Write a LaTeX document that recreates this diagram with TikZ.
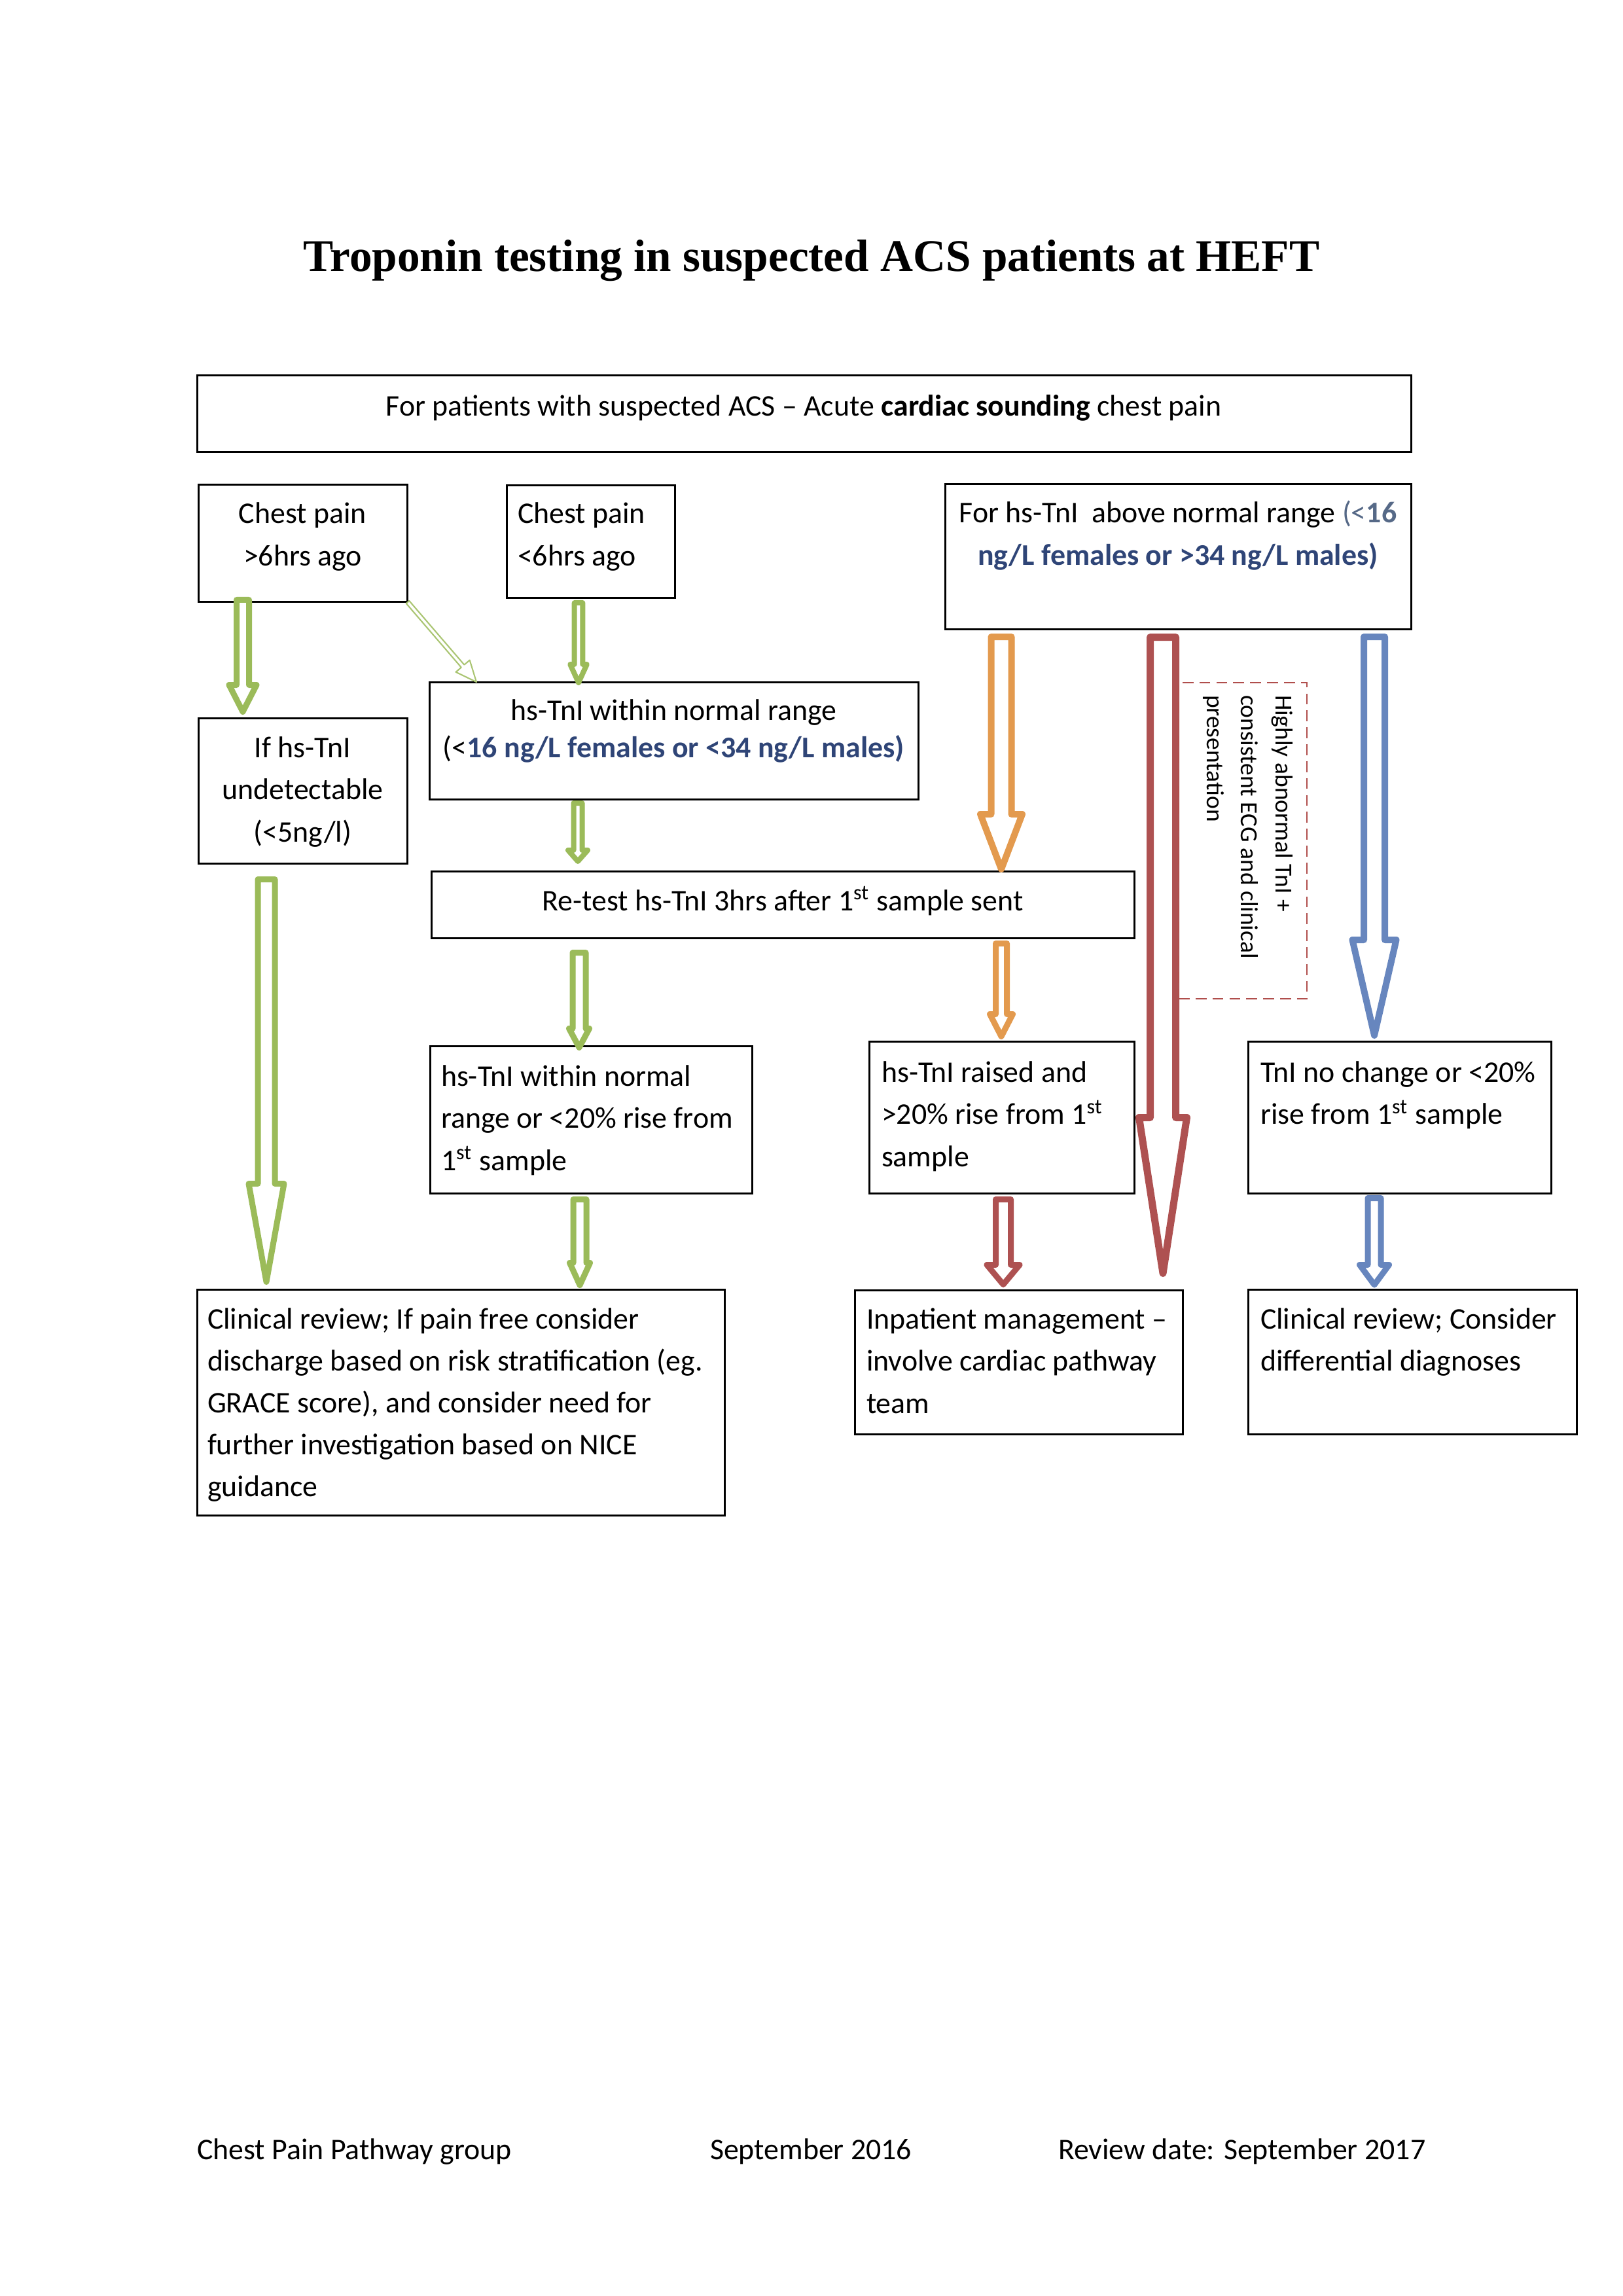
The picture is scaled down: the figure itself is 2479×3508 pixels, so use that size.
\documentclass[tikz,border=0pt]{standalone}
\usepackage{fontspec}
\setmainfont{Carlito}
\newfontfamily\titlefont{Liberation Serif}
\usetikzlibrary{calc}
\definecolor{grn}{HTML}{9BBB59}
\definecolor{org}{HTML}{E39A4E}
\definecolor{rd}{HTML}{AE5151}
\definecolor{blu}{HTML}{6786BE}
\definecolor{dkblue}{HTML}{2F4577}
\definecolor{slate}{HTML}{566987}
\definecolor{dashred}{HTML}{B04E4C}
\tikzset{
  box/.style={draw, line width=0.72pt, anchor=north west, inner sep=0pt, outer sep=0pt},
  dashbox/.style={draw=dashred, line width=0.7pt, dash pattern=on 4pt off 2.2pt, anchor=north west, inner sep=0pt, outer sep=0pt},
  txt/.style={inner sep=0pt, outer sep=0pt, font=\fontsize{11pt}{15.5pt}\selectfont},
  arw/.style={draw=#1, fill=white, line join=round}
}
% box node: style, name, x1, y1, x2, y2 (pixel units)
\newcommand\bx[6]{\node[#1, minimum width={(#5-#3)*0.24pt}, minimum height={(#6-#4)*0.24pt}] (#2) at (#3,#4) {};}
% block arrow: style, start, tip, head length, half shaft, half head (pixels)
\newcommand\barrow[6]{%
  \draw[#1] let \p1=(#2), \p2=(#3) in
   (\x1-#5*0.24pt,\y1) -- (\x1-#5*0.24pt,\y2+#4*0.24pt) -- (\x1-#6*0.24pt,\y2+#4*0.24pt)
   -- (\x1,\y2) -- (\x1+#6*0.24pt,\y2+#4*0.24pt) -- (\x1+#5*0.24pt,\y2+#4*0.24pt)
   -- (\x1+#5*0.24pt,\y1) -- cycle;}
\begin{document}
\begin{tikzpicture}[x=0.24pt,y=-0.24pt]
\useasboundingbox (0,0) rectangle (2479,3508);
\fill[white] (0,0) rectangle (2479,3508);

% title
\node[inner sep=0pt, anchor=base] (title) at (1240,415)
  {\resizebox{372.7pt}{!}{\titlefont\fontsize{16pt}{19pt}\selectfont\bfseries Troponin testing in suspected ACS patients at HEFT}};

% boxes
\bx{box}{A}{301}{574}{2156}{691}
\bx{box}{B}{303}{741}{622}{920}
\bx{box}{C}{774}{742}{1031}{914}
\bx{box}{D}{1444}{740}{2156}{962}
\bx{box}{E}{656}{1042}{1403}{1221}
\bx{box}{F}{303}{1097}{622}{1319}
\bx{box}{G}{659}{1331}{1733}{1433}
\bx{box}{H}{657}{1598}{1149}{1823}
\bx{box}{I}{1328}{1591}{1733}{1823}
\bx{box}{J}{1907}{1591}{2370}{1823}
\bx{box}{K}{301}{1970}{1107}{2315}
\bx{box}{L}{1306}{1971}{1807}{2191}
\bx{box}{M}{1907}{1970}{2409}{2191}

% texts
\node[txt, anchor=base] (tA) at (1228,636) {For patients with suspected ACS – Acute \textbf{cardiac sounding} chest pain};
\node[txt, anchor=base] (tB) at (462.5,800) {\parbox[t]{70pt}{\centering Chest pain\\>6hrs ago}};
\node[txt, anchor=base west] (tC) at (791,800) {\parbox[t]{60pt}{\raggedright Chest pain\\<6hrs ago}};
\node[txt, anchor=base] (tD) at (1800,799) {\parbox[t]{170pt}{\centering For hs-TnI\ \ above normal range {\color{slate}(<\textbf{16}}\\{\color{dkblue}\bfseries ng/L females or >34 ng/L males)}}};
\node[txt, anchor=base] (tE) at (1029.5,1100) {\parbox[t]{190pt}{\centering\setlength\baselineskip{13.9pt}hs-TnI within normal range\\(<{\color{dkblue}\bfseries 16 ng/L females or <34 ng/L males)}}};
\node[txt, anchor=base] (tF) at (462.5,1157) {\parbox[t]{70pt}{\centering If hs-TnI\\undetectable\\(<5ng/l)}};
\node[txt, anchor=base] (tG) at (1196,1391) {Re-test hs-TnI 3hrs after 1\textsuperscript{st} sample sent};
\node[txt, anchor=base west] (tH) at (674,1659) {\parbox[t]{115pt}{\raggedright hs-TnI within normal\\range or <20\% rise from\\1\textsuperscript{st} sample}};
\node[txt, anchor=base west] (tI) at (1347,1653) {\parbox[t]{95pt}{\raggedright hs-TnI raised and\\>20\% rise from 1\textsuperscript{st}\\sample}};
\node[txt, anchor=base west] (tJ) at (1926,1653) {\parbox[t]{110pt}{\raggedright TnI no change or <20\%\\rise from 1\textsuperscript{st} sample}};
\node[txt, anchor=base west] (tK) at (317,2030) {\parbox[t]{190pt}{\raggedright\setlength\baselineskip{15.4pt}Clinical review; If pain free consider\\discharge based on risk stratification (eg.\\GRACE score), and consider need for\\further investigation based on NICE\\guidance}};
\node[txt, anchor=base west] (tL) at (1324,2030) {\parbox[t]{120pt}{\raggedright Inpatient management –\\involve cardiac pathway\\team}};
\node[txt, anchor=base west] (tM) at (1926,2030) {\parbox[t]{120pt}{\raggedright Clinical review; Consider\\differential diagnoses}};

% arrow end points
\coordinate (g1a) at (371,916.5);  \coordinate (g1b) at (371,1087.5);
\coordinate (g2a) at (884,921);    \coordinate (g2b) at (884,1043);
\coordinate (g4a) at (883,1227);   \coordinate (g4b) at (883,1316);
\coordinate (g5a) at (407,1343.5); \coordinate (g5b) at (407,1958.5);
\coordinate (g6a) at (885,1455.5); \coordinate (g6b) at (885,1600.5);
\coordinate (g7a) at (886,1832.5); \coordinate (g7b) at (886,1963.5);
\coordinate (o1a) at (1530,973);   \coordinate (o1b) at (1530,1328);
\coordinate (o2a) at (1530,1441.5);\coordinate (o2b) at (1530,1583.5);
\coordinate (r1a) at (1777,973.5); \coordinate (r1b) at (1777,1945.5);
\coordinate (r2a) at (1533,1832.5);\coordinate (r2b) at (1533,1962.5);
\coordinate (b1a) at (2100,973);   \coordinate (b1b) at (2100,1582);
\coordinate (b2a) at (2100,1830.5);\coordinate (b2b) at (2100,1963);

% green arrows
\barrow{arw=grn, line width=2.16pt}{g1a}{g1b}{41}{9.5}{21}
\barrow{arw=grn, line width=1.92pt}{g2a}{g2b}{28}{6.3}{12.8}
\barrow{arw=grn, line width=1.92pt}{g4a}{g4b}{17}{6.5}{15}
\barrow{arw=grn, line width=2.16pt}{g5a}{g5b}{150}{13}{27}
\barrow{arw=grn, line width=2.16pt}{g6a}{g6b}{29}{10}{15.5}
\barrow{arw=grn, line width=2.16pt}{g7a}{g7b}{34}{10}{15.5}
% diagonal thin green arrow from B to E
\draw[arw=grn!85, line width=0.5pt] (625.3,918.0) -- (709.4,1015.7) -- (717.7,1008.6) -- (728,1042)
   -- (696.5,1026.8) -- (704.8,1019.7) -- (620.7,922.0) -- cycle;
% orange arrows
\barrow{arw=org, line width=2.4pt}{o1a}{o1b}{84}{15.5}{32}
\barrow{arw=org, line width=2.16pt}{o2a}{o2b}{34}{8.5}{17.5}
% red arrows
\barrow{arw=rd, line width=2.64pt}{r1a}{r1b}{238}{19.5}{36.5}
\barrow{arw=rd, line width=2.16pt}{r2a}{r2b}{30}{11.5}{25}
% blue arrows
\barrow{arw=blu, line width=2.4pt}{b1a}{b1b}{146}{16}{33.5}
\barrow{arw=blu, line width=2.16pt}{b2a}{b2b}{30.5}{10}{22.5}

% dashed note box
\bx{dashbox}{N}{1801}{1043}{1997}{1526}
\node[txt, font=\fontsize{9pt}{12.6pt}\selectfont, rotate=-90, anchor=base west] (tN) at (1949,1062)
  {\parbox[t]{100pt}{\raggedright Highly abnormal TnI +\\consistent ECG and clinical\\presentation}};

% footer
\node[txt, anchor=base west] (f1) at (301,3299) {Chest Pain Pathway group};
\node[txt, anchor=base west] (f2) at (1085,3299) {September 2016};
\node[txt, anchor=base west] (f3) at (1617,3299) {Review date: September 2017};
\end{tikzpicture}
\end{document}
